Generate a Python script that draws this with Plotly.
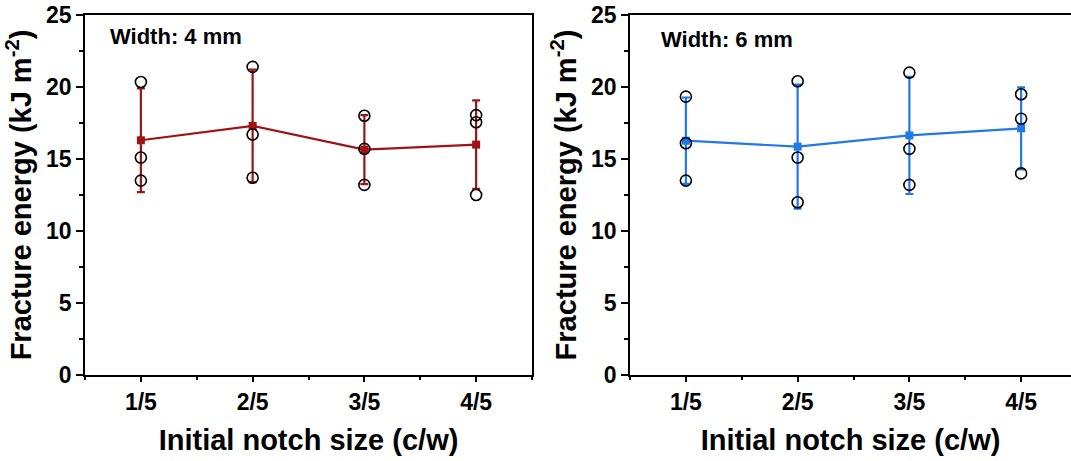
import plotly.graph_objects as go

categories = ["1/5", "2/5", "3/5", "4/5"]

w4_mean = [16.3, 17.3, 15.65, 16.0]
w4_err = [3.6, 3.9, 2.4, 3.07]
w4_samples = [[20.35, 15.1, 13.5], [21.4, 16.7, 13.7], [18.0, 15.7, 13.2], [18.05, 17.55, 12.5]]

w6_mean = [16.27, 15.86, 16.64, 17.13]
w6_err = [3.0, 4.3, 4.07, 2.85]
w6_samples = [[19.33, 16.09, 13.5], [20.4, 15.1, 12.0], [21.0, 15.7, 13.2], [19.5, 17.8, 14.0]]

y_ticks = [0, 5, 10, 15, 20, 25]

RED = "#9E1414"
BLUE = "#2079E6"
FONT = "Liberation Sans, Arial, sans-serif"

xi = list(range(len(categories)))

fig = go.Figure()

def add_panel(mean, err, samples, color, xa, ya):
    fig.add_trace(go.Scatter(
        x=xi, y=mean, xaxis=xa, yaxis=ya, mode="lines+markers",
        line=dict(color=color, width=2.2),
        marker=dict(symbol="square", size=8, color=color),
        error_y=dict(type="data", array=err, visible=True, color=color, thickness=2.2, width=4),
        showlegend=False, hoverinfo="skip"))
    sx, sy = [], []
    for i, s in enumerate(samples):
        for v in s:
            sx.append(i)
            sy.append(v)
    fig.add_trace(go.Scatter(
        x=sx, y=sy, xaxis=xa, yaxis=ya, mode="markers",
        marker=dict(symbol="circle-open", size=11, color="black", line=dict(width=1.6, color="black")),
        showlegend=False, hoverinfo="skip"))

add_panel(w4_mean, w4_err, w4_samples, RED, "x", "y")
add_panel(w6_mean, w6_err, w6_samples, BLUE, "x2", "y2")

W, H = 1071, 461
ml, mr, mt, mb = 85, 0, 15, 86
pw = W - ml - mr
d1 = [0, (532 - ml) / pw]
d2 = [(630 - ml) / pw, 1.0]
unit = 447 / 4.0
r2 = -0.5 + (W - 630) / unit

tickfont = dict(family=FONT, size=23, color="black", weight="bold")
titlefont = dict(family=FONT, size=29, color="black", weight="bold")

def xaxis_cfg(domain, rng, anchor):
    return dict(domain=domain, range=rng, anchor=anchor,
                tickvals=xi, ticktext=categories, ticks="outside", ticklen=5, tickwidth=1.8,
                tickcolor="black", showline=True, linecolor="black", linewidth=1.8,
                mirror=True, showgrid=False, zeroline=False, tickfont=tickfont,
                minor=dict(dtick=0.5, tick0=-0.5, ticks="outside", ticklen=3, tickwidth=1.8, tickcolor="black"),
                title=dict(text="Initial notch size (c/w)", font=titlefont, standoff=16))

def yaxis_cfg(anchor, mirror):
    return dict(domain=[0, 1], range=[0, 25], anchor=anchor,
                tickvals=y_ticks, ticks="outside", ticklen=7, tickwidth=1.8,
                tickcolor="black", showline=True, linecolor="black", linewidth=1.8,
                mirror=mirror, showgrid=False, zeroline=False, tickfont=tickfont,
                minor=dict(dtick=2.5, tick0=0, ticks="outside", ticklen=4, tickwidth=1.8, tickcolor="black"),
                title=dict(text="Fracture energy (kJ m<sup>-2</sup>)", font=titlefont, standoff=6))

fig.update_layout(
    width=W, height=H, margin=dict(l=ml, r=mr, t=mt, b=mb),
    paper_bgcolor="white", plot_bgcolor="white",
    xaxis=xaxis_cfg(d1, [-0.5, 3.5], "y"),
    yaxis=yaxis_cfg("x", True),
    xaxis2=xaxis_cfg(d2, [-0.5, r2], "y2"),
    yaxis2=yaxis_cfg("x2", False),
    annotations=[
        dict(text="Width: 4 mm", xref="x domain", yref="y domain", x=23 / 447, y=(375 - 36) / 360,
             xanchor="left", yanchor="middle", showarrow=False,
             font=dict(family=FONT, size=22, color="black", weight="bold")),
        dict(text="Width: 6 mm", xref="x2 domain", yref="y2 domain", x=29 / (W - 630), y=(375 - 40) / 360,
             xanchor="left", yanchor="middle", showarrow=False,
             font=dict(family=FONT, size=22, color="black", weight="bold")),
    ],
)

fig.write_html("out.html")
